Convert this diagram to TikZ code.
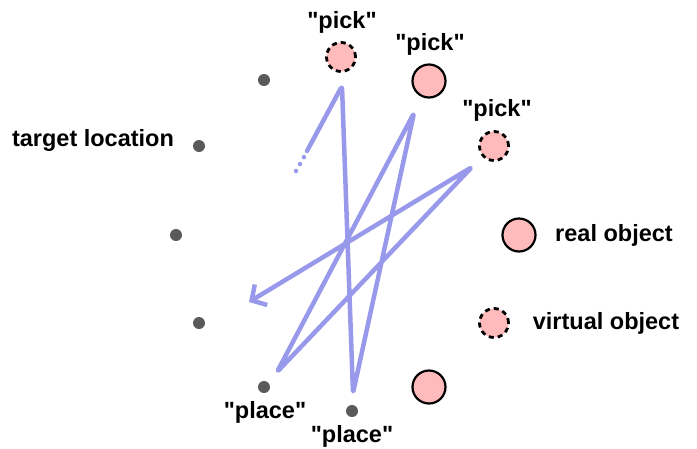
\documentclass[tikz,border=0pt]{standalone}
\usepackage{fontspec}
\setmainfont{Liberation Sans}[Ligatures=TeXOff]
\usetikzlibrary{arrows.meta}
\definecolor{pathblue}{RGB}{153,153,235}
\definecolor{objpink}{RGB}{255,187,187}
\definecolor{dotgray}{RGB}{90,90,90}

\tikzset{
  loc/.style={circle, fill=dotgray, inner sep=0pt, minimum size=12pt},
  realobj/.style={circle, draw=black, line width=2.2pt, fill=objpink, inner sep=0pt, minimum size=33pt},
  virtobj/.style={circle, draw=black, line width=2.8pt, dash pattern=on 5pt off 4pt, fill=objpink, inner sep=0pt, minimum size=29pt},
  lbl/.style={font=\fontsize{23.5}{28}\selectfont\bfseries, inner sep=0pt},
  route/.style={pathblue, line width=4.5pt, line cap=round, line join=round}
}

\begin{document}
\begin{tikzpicture}[x=1pt, y=-1pt]
    \useasboundingbox (0,0) rectangle (697,448);
    \node[loc] (l1) at (264,80) {};
    \node[loc] (l2) at (199,146) {};
    \node[loc] (l3) at (176,235) {};
    \node[loc] (l4) at (199,323) {};
    \node[loc] (l5) at (264,387) {};
    \node[loc] (l6) at (352,411) {};
    \node[virtobj] (o1) at (341,57) {};
    \node[realobj] (o2) at (429,81) {};
    \node[virtobj] (o3) at (494,146) {};
    \node[realobj] (o4) at (429,387) {};
    \node[realobj] (kr) at (519,235) {};
    \node[virtobj] (kv) at (494,323) {};
    \node[lbl] (p1) at (342,22) {"pick"};
    \node[lbl] (p2) at (430,44) {"pick"};
    \node[lbl] (p3) at (497,110) {"pick"};
    \node[lbl] (q1) at (265,412) {"place"};
    \node[lbl] (q2) at (352,436) {"place"};
    \node[lbl] (tl) at (93,140) {target location};
    \node[lbl] (krl) at (614,235) {real object};
    \node[lbl] (kvl) at (606,323) {virtual object};
    \coordinate (s0) at (296,171);
    \coordinate (s1) at (304,157);
    \coordinate (s) at (307,151);
    \coordinate (t1) at (342,86);
    \coordinate (b1) at (353,393);
    \coordinate (t2) at (414,113);
    \coordinate (b2) at (277,372);
    \coordinate (t3) at (472,167);
    \coordinate (e) at (249,302);
    \draw[route, dash pattern=on 0pt off 8pt] (s0) -- (s1);
    \draw[route, rounded corners=3pt, -{Straight Barb[length=11pt,width=24pt]}] (s) -- (t1) -- (b1) -- (t2) -- (b2) -- (t3) -- (e);
\end{tikzpicture}
\end{document}
